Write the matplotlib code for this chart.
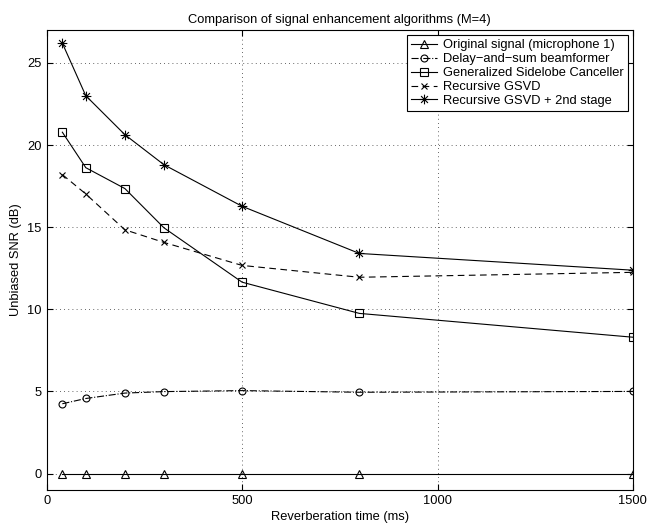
import numpy as np
import matplotlib.pyplot as plt
from matplotlib.path import Path

plt.rcParams['font.family'] = ['Liberation Sans', 'DejaVu Sans']

reverb_ms = [40, 100, 200, 300, 500, 800, 1500]
original = [0, 0, 0, 0, 0, 0, 0]
delay_sum = [4.25, 4.57, 4.9, 4.99, 5.05, 4.95, 5.0]
gsc = [20.78, 18.62, 17.35, 14.96, 11.65, 9.75, 8.3]
rec_gsvd = [18.2, 17.02, 14.84, 14.07, 12.67, 11.95, 12.25]
rec_gsvd_2nd = [26.2, 23.0, 20.63, 18.8, 16.27, 13.4, 12.38]

labels = ["Original signal (microphone 1)", "Delay\u2212and\u2212sum beamformer",
          "Generalized Sidelobe Canceller", "Recursive GSVD",
          "Recursive GSVD + 2nd stage"]

# matlab style asterisk: four strokes through the centre
verts, codes = [], []
for a in np.deg2rad([0, 45, 90, 135]):
    verts += [(-np.cos(a), -np.sin(a)), (np.cos(a), np.sin(a))]
    codes += [Path.MOVETO, Path.LINETO]
asterisk = Path(verts, codes)

fig = plt.figure(figsize=(6.47, 5.23), dpi=100)
ax = fig.add_axes([0.0722, 0.0631, 0.906, 0.8795])

lw = 0.8
ax.plot(reverb_ms, original, '-', marker='^', color='k', lw=lw, ms=5.5, mfc='none', mew=0.8, label=labels[0])
ax.plot(reverb_ms, delay_sum, '-.', marker='o', color='k', lw=lw, ms=5, mfc='none', mew=0.8, label=labels[1])
ax.plot(reverb_ms, gsc, '-', marker='s', color='k', lw=lw, ms=5.5, mfc='none', mew=0.8, label=labels[2])
ax.plot(reverb_ms, rec_gsvd, '--', marker='x', color='k', lw=lw, ms=5, mew=0.8, label=labels[3],
        dashes=(6, 4))
ax.plot(reverb_ms, rec_gsvd_2nd, '-', marker=asterisk, color='k', lw=lw, ms=7, mew=0.8, label=labels[4])

ax.set_xlim(0, 1500)
ax.set_ylim(-1, 27)
ax.set_xticks([0, 500, 1000, 1500])
ax.set_yticks([0, 5, 10, 15, 20, 25])
ax.grid(True, linestyle=(0, (1, 4)), color='k', lw=0.6, alpha=0.8)
ax.tick_params(direction='in', top=True, right=True, labelsize=9.3, length=4)
for s in ax.spines.values():
    s.set_linewidth(0.8)

ax.set_xlabel("Reverberation time (ms)", fontsize=9.3, labelpad=3)
ax.set_ylabel("Unbiased SNR (dB)", fontsize=9.3, labelpad=4)
ax.set_title("Comparison of signal enhancement algorithms (M=4)", fontsize=9.3, pad=5)

leg = ax.legend(loc='upper right', fontsize=9.3, handlelength=2.0, handletextpad=0.5,
                borderaxespad=0.4, labelspacing=0.15, fancybox=False, framealpha=1,
                borderpad=0.3)
leg.get_frame().set_edgecolor('k')
leg.get_frame().set_linewidth(0.8)

fig.savefig("out.png", dpi=100)
